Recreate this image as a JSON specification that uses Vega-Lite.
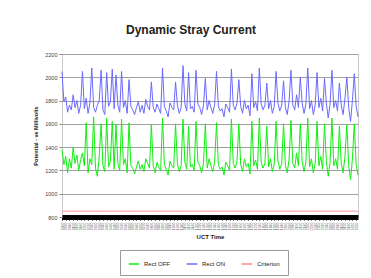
{
  "$schema": "https://vega.github.io/schema/vega-lite/v6.json",
  "autosize": "none",
  "width": 296,
  "height": 163,
  "padding": {"left": 62, "top": 54, "right": 13, "bottom": 61},
  "background": "white",
  "title": {"text": "Dynamic Stray Current", "fontSize": 12, "fontWeight": "bold", "font": "Liberation Sans", "color": "#222222", "offset": 15, "anchor": "middle", "dx": -19},
  "config": {"view": {"stroke": "#cccccc"}, "font": "Liberation Sans"},
  "data": {"values": [
{"t":0,"Rect OFF":1380,"Rect ON":2050,"Criterion":850},{"t":1,"Rect OFF":1250,"Rect ON":1790,"Criterion":850},{"t":2,"Rect OFF":1320,"Rect ON":1830,"Criterion":850},{"t":3,"Rect OFF":1180,"Rect ON":1700,"Criterion":850},{"t":4,"Rect OFF":1300,"Rect ON":1760,"Criterion":850},{"t":5,"Rect OFF":1220,"Rect ON":1720,"Criterion":850},{"t":6,"Rect OFF":1400,"Rect ON":1850,"Criterion":850},{"t":7,"Rect OFF":1260,"Rect ON":1740,"Criterion":850},{"t":8,"Rect OFF":1330,"Rect ON":1800,"Criterion":850},{"t":9,"Rect OFF":1200,"Rect ON":1690,"Criterion":850},
{"t":10,"Rect OFF":1290,"Rect ON":1760,"Criterion":850},{"t":11,"Rect OFF":1350,"Rect ON":2050,"Criterion":850},{"t":12,"Rect OFF":1240,"Rect ON":1730,"Criterion":850},{"t":13,"Rect OFF":1610,"Rect ON":1820,"Criterion":850},{"t":14,"Rect OFF":1180,"Rect ON":1690,"Criterion":850},{"t":15,"Rect OFF":1300,"Rect ON":1780,"Criterion":850},{"t":16,"Rect OFF":1250,"Rect ON":2080,"Criterion":850},{"t":17,"Rect OFF":1660,"Rect ON":1740,"Criterion":850},{"t":18,"Rect OFF":1220,"Rect ON":1700,"Criterion":850},{"t":19,"Rect OFF":1150,"Rect ON":1760,"Criterion":850},
{"t":20,"Rect OFF":1320,"Rect ON":1800,"Criterion":850},{"t":21,"Rect OFF":1600,"Rect ON":2060,"Criterion":850},{"t":22,"Rect OFF":1240,"Rect ON":1720,"Criterion":850},{"t":23,"Rect OFF":1190,"Rect ON":1680,"Criterion":850},{"t":24,"Rect OFF":1650,"Rect ON":2040,"Criterion":850},{"t":25,"Rect OFF":1230,"Rect ON":1750,"Criterion":850},{"t":26,"Rect OFF":1280,"Rect ON":1790,"Criterion":850},{"t":27,"Rect OFF":1620,"Rect ON":2070,"Criterion":850},{"t":28,"Rect OFF":1210,"Rect ON":1730,"Criterion":850},{"t":29,"Rect OFF":1590,"Rect ON":2020,"Criterion":850},
{"t":30,"Rect OFF":1260,"Rect ON":1760,"Criterion":850},{"t":31,"Rect OFF":1200,"Rect ON":1700,"Criterion":850},{"t":32,"Rect OFF":1640,"Rect ON":2050,"Criterion":850},{"t":33,"Rect OFF":1250,"Rect ON":1740,"Criterion":850},{"t":34,"Rect OFF":1300,"Rect ON":1800,"Criterion":850},{"t":35,"Rect OFF":1180,"Rect ON":1690,"Criterion":850},{"t":36,"Rect OFF":1610,"Rect ON":1980,"Criterion":850},{"t":37,"Rect OFF":1240,"Rect ON":1750,"Criterion":850},{"t":38,"Rect OFF":1220,"Rect ON":1720,"Criterion":850},{"t":39,"Rect OFF":1170,"Rect ON":1680,"Criterion":850},
{"t":40,"Rect OFF":1230,"Rect ON":1740,"Criterion":850},{"t":41,"Rect OFF":1280,"Rect ON":1790,"Criterion":850},{"t":42,"Rect OFF":1210,"Rect ON":1700,"Criterion":850},{"t":43,"Rect OFF":1250,"Rect ON":1760,"Criterion":850},{"t":44,"Rect OFF":1190,"Rect ON":1690,"Criterion":850},{"t":45,"Rect OFF":1300,"Rect ON":1810,"Criterion":850},{"t":46,"Rect OFF":1260,"Rect ON":1750,"Criterion":850},{"t":47,"Rect OFF":1220,"Rect ON":1720,"Criterion":850},{"t":48,"Rect OFF":1590,"Rect ON":1960,"Criterion":850},{"t":49,"Rect OFF":1240,"Rect ON":1740,"Criterion":850},
{"t":50,"Rect OFF":1180,"Rect ON":1700,"Criterion":850},{"t":51,"Rect OFF":1270,"Rect ON":1770,"Criterion":850},{"t":52,"Rect OFF":1230,"Rect ON":1730,"Criterion":850},{"t":53,"Rect OFF":1200,"Rect ON":1690,"Criterion":850},{"t":54,"Rect OFF":1650,"Rect ON":2080,"Criterion":850},{"t":55,"Rect OFF":1250,"Rect ON":1750,"Criterion":850},{"t":56,"Rect OFF":1210,"Rect ON":1710,"Criterion":850},{"t":57,"Rect OFF":1160,"Rect ON":1660,"Criterion":850},{"t":58,"Rect OFF":1280,"Rect ON":1780,"Criterion":850},{"t":59,"Rect OFF":1240,"Rect ON":1740,"Criterion":850},
{"t":60,"Rect OFF":1220,"Rect ON":1720,"Criterion":850},{"t":61,"Rect OFF":1600,"Rect ON":1960,"Criterion":850},{"t":62,"Rect OFF":1260,"Rect ON":1760,"Criterion":850},{"t":63,"Rect OFF":1190,"Rect ON":1690,"Criterion":850},{"t":64,"Rect OFF":1240,"Rect ON":1740,"Criterion":850},{"t":65,"Rect OFF":1640,"Rect ON":2100,"Criterion":850},{"t":66,"Rect OFF":1270,"Rect ON":1770,"Criterion":850},{"t":67,"Rect OFF":1210,"Rect ON":1710,"Criterion":850},{"t":68,"Rect OFF":1580,"Rect ON":2040,"Criterion":850},{"t":69,"Rect OFF":1230,"Rect ON":1730,"Criterion":850},
{"t":70,"Rect OFF":1250,"Rect ON":1750,"Criterion":850},{"t":71,"Rect OFF":1200,"Rect ON":1700,"Criterion":850},{"t":72,"Rect OFF":1620,"Rect ON":2060,"Criterion":850},{"t":73,"Rect OFF":1270,"Rect ON":1770,"Criterion":850},{"t":74,"Rect OFF":1240,"Rect ON":1740,"Criterion":850},{"t":75,"Rect OFF":1180,"Rect ON":1680,"Criterion":850},{"t":76,"Rect OFF":1260,"Rect ON":1760,"Criterion":850},{"t":77,"Rect OFF":1600,"Rect ON":1990,"Criterion":850},{"t":78,"Rect OFF":1220,"Rect ON":1720,"Criterion":850},{"t":79,"Rect OFF":1300,"Rect ON":1800,"Criterion":850},
{"t":80,"Rect OFF":1240,"Rect ON":1740,"Criterion":850},{"t":81,"Rect OFF":1190,"Rect ON":1690,"Criterion":850},{"t":82,"Rect OFF":1270,"Rect ON":1770,"Criterion":850},{"t":83,"Rect OFF":1610,"Rect ON":2050,"Criterion":850},{"t":84,"Rect OFF":1250,"Rect ON":1750,"Criterion":850},{"t":85,"Rect OFF":1210,"Rect ON":1710,"Criterion":850},{"t":86,"Rect OFF":1230,"Rect ON":1730,"Criterion":850},{"t":87,"Rect OFF":1160,"Rect ON":1660,"Criterion":850},{"t":88,"Rect OFF":1270,"Rect ON":1770,"Criterion":850},{"t":89,"Rect OFF":1240,"Rect ON":1740,"Criterion":850},
{"t":90,"Rect OFF":1200,"Rect ON":1700,"Criterion":850},{"t":91,"Rect OFF":1640,"Rect ON":2070,"Criterion":850},{"t":92,"Rect OFF":1260,"Rect ON":1760,"Criterion":850},{"t":93,"Rect OFF":1220,"Rect ON":1720,"Criterion":850},{"t":94,"Rect OFF":1280,"Rect ON":1780,"Criterion":850},{"t":95,"Rect OFF":1600,"Rect ON":1980,"Criterion":850},{"t":96,"Rect OFF":1250,"Rect ON":1750,"Criterion":850},{"t":97,"Rect OFF":1190,"Rect ON":1690,"Criterion":850},{"t":98,"Rect OFF":1300,"Rect ON":1800,"Criterion":850},{"t":99,"Rect OFF":1230,"Rect ON":1730,"Criterion":850},
{"t":100,"Rect OFF":1260,"Rect ON":1760,"Criterion":850},{"t":101,"Rect OFF":1170,"Rect ON":1670,"Criterion":850},{"t":102,"Rect OFF":1620,"Rect ON":2030,"Criterion":850},{"t":103,"Rect OFF":1240,"Rect ON":1740,"Criterion":850},{"t":104,"Rect OFF":1290,"Rect ON":1790,"Criterion":850},{"t":105,"Rect OFF":1210,"Rect ON":1710,"Criterion":850},{"t":106,"Rect OFF":1650,"Rect ON":2080,"Criterion":850},{"t":107,"Rect OFF":1270,"Rect ON":1770,"Criterion":850},{"t":108,"Rect OFF":1220,"Rect ON":1720,"Criterion":850},{"t":109,"Rect OFF":1260,"Rect ON":1760,"Criterion":850},
{"t":110,"Rect OFF":1580,"Rect ON":1950,"Criterion":850},{"t":111,"Rect OFF":1230,"Rect ON":1730,"Criterion":850},{"t":112,"Rect OFF":1300,"Rect ON":1800,"Criterion":850},{"t":113,"Rect OFF":1190,"Rect ON":1690,"Criterion":850},{"t":114,"Rect OFF":1250,"Rect ON":1750,"Criterion":850},{"t":115,"Rect OFF":1620,"Rect ON":2050,"Criterion":850},{"t":116,"Rect OFF":1280,"Rect ON":1780,"Criterion":850},{"t":117,"Rect OFF":1210,"Rect ON":1710,"Criterion":850},{"t":118,"Rect OFF":1260,"Rect ON":1760,"Criterion":850},{"t":119,"Rect OFF":1600,"Rect ON":1970,"Criterion":850},
{"t":120,"Rect OFF":1240,"Rect ON":1740,"Criterion":850},{"t":121,"Rect OFF":1180,"Rect ON":1680,"Criterion":850},{"t":122,"Rect OFF":1300,"Rect ON":1800,"Criterion":850},{"t":123,"Rect OFF":1630,"Rect ON":2060,"Criterion":850},{"t":124,"Rect OFF":1260,"Rect ON":1760,"Criterion":850},{"t":125,"Rect OFF":1220,"Rect ON":1720,"Criterion":850},{"t":126,"Rect OFF":1350,"Rect ON":1850,"Criterion":850},{"t":127,"Rect OFF":1240,"Rect ON":1740,"Criterion":850},{"t":128,"Rect OFF":1600,"Rect ON":2000,"Criterion":850},{"t":129,"Rect OFF":1280,"Rect ON":1780,"Criterion":850},
{"t":130,"Rect OFF":1190,"Rect ON":1690,"Criterion":850},{"t":131,"Rect OFF":1270,"Rect ON":1770,"Criterion":850},{"t":132,"Rect OFF":1650,"Rect ON":2080,"Criterion":850},{"t":133,"Rect OFF":1230,"Rect ON":1730,"Criterion":850},{"t":134,"Rect OFF":1300,"Rect ON":1800,"Criterion":850},{"t":135,"Rect OFF":1180,"Rect ON":1680,"Criterion":850},{"t":136,"Rect OFF":1260,"Rect ON":1760,"Criterion":850},{"t":137,"Rect OFF":1620,"Rect ON":2040,"Criterion":850},{"t":138,"Rect OFF":1240,"Rect ON":1740,"Criterion":850},{"t":139,"Rect OFF":1320,"Rect ON":1820,"Criterion":850},
{"t":140,"Rect OFF":1210,"Rect ON":1710,"Criterion":850},{"t":141,"Rect OFF":1600,"Rect ON":1990,"Criterion":850},{"t":142,"Rect OFF":1280,"Rect ON":1780,"Criterion":850},{"t":143,"Rect OFF":1150,"Rect ON":1650,"Criterion":850},{"t":144,"Rect OFF":1270,"Rect ON":1770,"Criterion":850},{"t":145,"Rect OFF":1650,"Rect ON":2060,"Criterion":850},{"t":146,"Rect OFF":1240,"Rect ON":1740,"Criterion":850},{"t":147,"Rect OFF":1300,"Rect ON":1800,"Criterion":850},{"t":148,"Rect OFF":1210,"Rect ON":1710,"Criterion":850},{"t":149,"Rect OFF":1580,"Rect ON":1950,"Criterion":850},
{"t":150,"Rect OFF":1260,"Rect ON":1760,"Criterion":850},{"t":151,"Rect OFF":1180,"Rect ON":1680,"Criterion":850},{"t":152,"Rect OFF":1320,"Rect ON":1820,"Criterion":850},{"t":153,"Rect OFF":1590,"Rect ON":2000,"Criterion":850},{"t":154,"Rect OFF":1240,"Rect ON":1740,"Criterion":850},{"t":155,"Rect OFF":1120,"Rect ON":1620,"Criterion":850},{"t":156,"Rect OFF":1300,"Rect ON":1800,"Criterion":850},{"t":157,"Rect OFF":1600,"Rect ON":2030,"Criterion":850},{"t":158,"Rect OFF":1250,"Rect ON":1750,"Criterion":850},{"t":159,"Rect OFF":1160,"Rect ON":1660,"Criterion":850}
  ]},
  "transform": [{"fold": ["Rect OFF", "Rect ON", "Criterion"], "as": ["series", "value"]}],
  "mark": {"type": "line", "strokeWidth": 1, "interpolate": "linear"},
  "encoding": {
    "x": {"field": "t", "type": "quantitative", "scale": {"domain": [0, 159], "nice": false, "zero": false},
      "axis": {"title": "UCT Time", "titleFontSize": 6, "titleFontWeight": "bold", "titleColor": "#222222", "titlePadding": 4,
        "tickCount": 60, "labelFontSize": 3.5, "labelColor": "#666666", "labelAngle": -90, "labelAlign": "right", "labelBaseline": "middle", "labelOverlap": false, "labelPadding": 2,
        "labelExpr": "utcFormat(datum.value*600000, '%H%M')",
        "domainColor": "#000000", "domainWidth": 5, "tickColor": "#000000", "tickSize": 3, "grid": false}},
    "y": {"field": "value", "type": "quantitative", "scale": {"domain": [800, 2200], "nice": false, "zero": false},
      "axis": {"title": "Potential - ve Millivolts", "titleFontSize": 5.5, "titleColor": "#222222", "titlePadding": 6,
        "values": [800, 1000, 1200, 1400, 1600, 1800, 2000, 2200], "format": "d", "labelFontSize": 5.5, "labelColor": "#444444",
        "grid": true, "gridColor": "#a0a0a0", "gridWidth": 1, "domain": false, "tickColor": "#888888", "tickSize": 3}},
    "color": {"field": "series", "type": "nominal",
      "scale": {"domain": ["Rect OFF", "Rect ON", "Criterion"], "range": ["#11ee11", "#6a6aff", "#ff8a8a"]},
      "legend": {"title": null, "orient": "none", "legendX": 58, "legendY": 196, "direction": "horizontal",
        "symbolType": "stroke", "symbolStrokeWidth": 1.5, "symbolSize": 110, "labelFontSize": 6, "labelColor": "#222222",
        "strokeColor": "#999999", "padding": 8, "columnPadding": 12}}
  }
}
